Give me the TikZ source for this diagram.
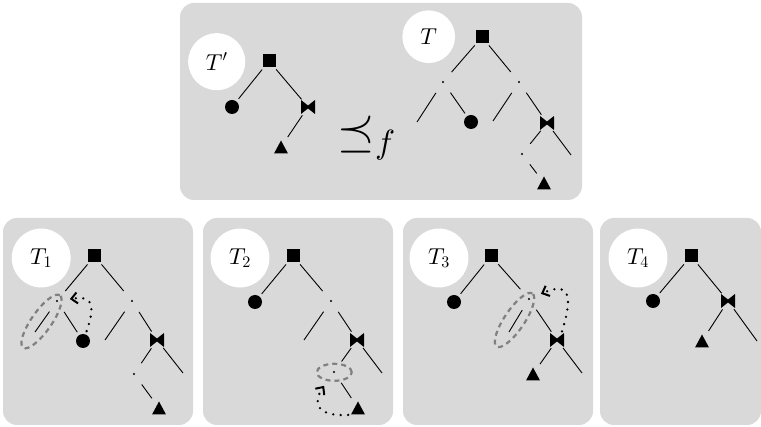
\documentclass[tikz,border=0pt]{standalone}
\DeclareFontShape{OML}{cmm}{m}{it}{<->cmmi10}{}
\DeclareFontShape{OMS}{cmsy}{m}{n}{<->cmsy10}{}
\DeclareFontShape{OT1}{cmr}{m}{n}{<->cmr10}{}
\usetikzlibrary{arrows.meta,shapes.geometric}
\definecolor{pgray}{RGB}{217,217,217}
\definecolor{hgray}{RGB}{128,128,128}
\tikzset{
  panel/.style={fill=pgray, rounded corners=14pt},
  vx/.style={circle, inner sep=0pt, outer sep=0pt},
  sqv/.style={vx, minimum size=22pt, path picture={\fill[black] (path picture bounding box.center) ++(-6.5,-6.5) rectangle ++(13,13);}},
  cv/.style={vx, minimum size=21pt, path picture={\fill[black] (path picture bounding box.center) circle[radius=7];}},
  bv/.style={vx, minimum size=20pt, path picture={\fill[black] (path picture bounding box.center) ++(-7,-7) -- ++(7,5.5) -- ++(7,-5.5) -- ++(0,14) -- ++(-7,-5.5) -- ++(-7,5.5) -- cycle;}},
  tv/.style={vx, minimum size=24pt, path picture={\fill[black] (path picture bounding box.center) ++(0,-6.5) -- ++(7,13) -- ++(-14,0) -- cycle;}},
  dv/.style={vx, minimum size=26pt, path picture={\fill[black] (path picture bounding box.center) circle[radius=1.1];}},
  lab/.style={circle, fill=white, inner sep=10.5pt, font=\fontsize{23}{27}\selectfont},
  tl/.style={line width=0.9pt, black},
  hl/.style={ellipse, draw=hgray, dash pattern=on 5pt off 4pt, line width=2.2pt, inner sep=0pt},
  darr/.style={line width=2.6pt, dash pattern=on 0pt off 7.5pt, line cap=round,
    -{Straight Barb[length=6pt,width=11pt,line width=2pt]}},
}
\begin{document}
\begin{tikzpicture}[x=1pt,y=-1pt]
\useasboundingbox (0,0) rectangle (761,427);
% panels
\path[panel] (180,3) rectangle (582,200);
\path[panel] (3,218) rectangle (193,425);
\path[panel] (203,218) rectangle (393,425);
\path[panel] (403,218) rectangle (593,425);
\path[panel] (600,218) rectangle (761,425);

% ---------- T'
\node[lab] (lTp) at (216.7,61.7) {$T'$};
\node[sqv] (pA) at (269,61) {};
\node[cv]  (pB) at (232,107) {};
\node[bv]  (pC) at (308,107) {};
\node[tv]  (pD) at (281,147) {};
\draw[tl] (pA) -- (pB);
\draw[tl] (pA) -- (pC);
\draw[tl] (pC) -- (pD);

\node[font=\fontsize{48}{56}\selectfont, inner sep=0pt, anchor=base west] (rel) at (337.5,146.5) {$\preceq_f$};

% ---------- T
\node[lab] (lT) at (428.7,36.7) {$T$};
\node[sqv] (tA) at (482,37) {};
\node[dv]  (tL) at (443,82) {};
\node[dv]  (tR) at (519,82) {};
\coordinate (tLL) at (417,122);
\node[cv]  (tC) at (471,122) {};
\coordinate (tRL) at (493,121);
\node[bv]  (tB) at (547,123) {};
\node[dv]  (tD) at (522,154) {};
\node[tv]  (tT) at (544,183) {};
\coordinate (tBR) at (571,155);
\draw[tl] (tA) -- (tL);
\draw[tl] (tA) -- (tR);
\draw[tl] (tL) -- (tLL);
\draw[tl] (tL) -- (tC);
\draw[tl] (tR) -- (tRL);
\draw[tl] (tR) -- (tB);
\draw[tl] (tB) -- (tD);
\draw[tl] (tD) -- (tT);
\draw[tl] (tB) -- (tBR);

% ---------- T1
\node[lab] (l1) at (41.2,258) {$T_1$};
\node[hl, minimum width=64pt, minimum height=20pt, rotate=55] (h1) at (41.5,321.5) {};
\node[sqv] (aA) at (94.5,256) {};
\node[dv]  (aL) at (57,301) {};
\node[dv]  (aR) at (132,301) {};
\coordinate (aLL) at (35,332);
\node[cv]  (aC) at (83,341) {};
\coordinate (aRL) at (105,340);
\node[bv]  (aB) at (157,340) {};
\node[dv]  (aD) at (134,374) {};
\node[tv]  (aT) at (159,408) {};
\coordinate (aBR) at (183,373);
\draw[tl] (aA) -- (aL);
\draw[tl] (aA) -- (aR);
\draw[tl] (aL) -- (aLL);
\draw[tl] (aL) -- (aC);
\draw[tl] (aR) -- (aRL);
\draw[tl] (aR) -- (aB);
\draw[tl] (aB) -- (aD);
\draw[tl] (aD) -- (aT);
\draw[tl] (aB) -- (aBR);
\draw[darr] (aC.70) .. controls (97,301) and (90,296) .. (aL);

% ---------- T2
\node[lab] (l2) at (240,258) {$T_2$};
\node[hl, minimum width=35pt, minimum height=17pt] (h2) at (334.3,372.3) {};
\node[sqv] (bA) at (293,256) {};
\node[cv]  (bC) at (255,302) {};
\node[dv]  (bR) at (331,301) {};
\coordinate (bRL) at (304,340);
\node[bv]  (bB) at (357,340) {};
\node[dv]  (bD) at (334,372) {};
\node[tv]  (bT) at (358,408) {};
\coordinate (bBR) at (382,373);
\draw[tl] (bA) -- (bC);
\draw[tl] (bA) -- (bR);
\draw[tl] (bR) -- (bRL);
\draw[tl] (bR) -- (bB);
\draw[tl] (bB) -- (bD);
\draw[tl] (bD) -- (bT);
\draw[tl] (bB) -- (bBR);
\draw[darr, shorten >=4pt] (bT.215) .. controls (313,417) and (314,400) .. (bD);

% ---------- T3
\node[lab] (l3) at (439,258) {$T_3$};
\node[hl, minimum width=64pt, minimum height=20pt, rotate=56] (h3) at (514.5,320) {};
\node[sqv] (cA) at (491,256) {};
\node[cv]  (cC) at (454,302) {};
\node[dv]  (cR) at (529,299) {};
\coordinate (cRL) at (509,332);
\node[bv]  (cB) at (557,340) {};
\node[tv]  (cT) at (533,374) {};
\coordinate (cBR) at (582,373);
\draw[tl] (cA) -- (cC);
\draw[tl] (cA) -- (cR);
\draw[tl] (cR) -- (cRL);
\draw[tl] (cR) -- (cB);
\draw[tl] (cB) -- (cT);
\draw[tl] (cB) -- (cBR);
\draw[darr] (cB.60) .. controls (575,290) and (566,283) .. (cR);

% ---------- T4
\node[lab] (l4) at (638,258) {$T_4$};
\node[sqv] (dA) at (691,256) {};
\node[cv]  (dC) at (653,301) {};
\node[bv]  (dB) at (728,301) {};
\node[tv]  (dT) at (702,341) {};
\coordinate (dBR) at (757,341);
\draw[tl] (dA) -- (dC);
\draw[tl] (dA) -- (dB);
\draw[tl] (dB) -- (dT);
\draw[tl] (dB) -- (dBR);
\end{tikzpicture}
\end{document}
